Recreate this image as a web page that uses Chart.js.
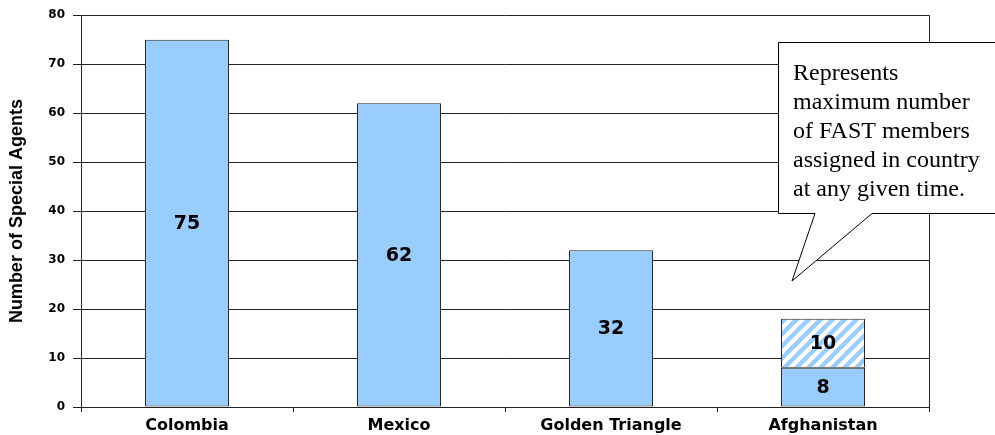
<!DOCTYPE html>
<html>
<head>
<meta charset="utf-8">
<script src="https://cdn.jsdelivr.net/npm/chart.js@4.4.1/dist/chart.umd.min.js"></script>
<style>
  html, body { margin: 0; padding: 0; background: #fff; }
  #wrap { width: 995px; height: 435px; }
</style>
</head>
<body>
<div id="wrap"><canvas id="myChart" width="995" height="435"></canvas></div>
<script>
const countries = ['Colombia', 'Mexico', 'Golden Triangle', 'Afghanistan'];
const assignedAgents = [75, 62, 32, 8];
const maxExtraAgents = [0, 0, 0, 10];
const yTicks = [0, 10, 20, 30, 40, 50, 60, 70, 80];
const calloutLines = ['Represents', 'maximum number', 'of FAST members', 'assigned in country', 'at any given time.'];

const BLUE = '#99CCFF';

// diagonal white stripes on the blue fill
function makeHatch() {
   const c = document.createElement('canvas');
   c.width = 12; c.height = 12;
   const g = c.getContext('2d');
   g.fillStyle = '#fff';
   g.fillRect(0, 0, 12, 12);
   g.strokeStyle = BLUE;
   g.lineWidth = 4.4;
   g.beginPath();
   g.moveTo(-3, 15); g.lineTo(15, -3);
   g.moveTo(-9, 9); g.lineTo(9, -9);
   g.moveTo(3, 21); g.lineTo(21, 3);
   g.stroke();
   return g.createPattern(c, 'repeat');
}

const barLabels = {
   id: 'barLabels',
   afterDatasetsDraw(chart) {
      const ctx = chart.ctx;
      ctx.save();
      ctx.font = 'bold 19px "DejaVu Sans"';
      ctx.fillStyle = '#000';
      ctx.textAlign = 'center';
      ctx.textBaseline = 'middle';
      chart.data.datasets.forEach((ds, di) => {
         const meta = chart.getDatasetMeta(di);
         meta.data.forEach((bar, i) => {
            const v = ds.data[i];
            if (!v) return;
            ctx.fillText(String(v), bar.x, (bar.y + bar.base) / 2 + 1);
         });
      });
      ctx.restore();
   }
};

const frameAndCallout = {
   id: 'frameAndCallout',
   afterDraw(chart) {
      const ctx = chart.ctx;
      const a = chart.chartArea;
      ctx.save();
      ctx.strokeStyle = '#222';
      ctx.lineWidth = 1;
      ctx.beginPath();
      ctx.moveTo(Math.round(a.right) + 0.5, a.top);
      ctx.lineTo(Math.round(a.right) + 0.5, a.bottom);
      ctx.stroke();

      // speech bubble
      ctx.beginPath();
      ctx.moveTo(778.5, 42.5);
      ctx.lineTo(1000, 42.5);
      ctx.lineTo(1000, 213.5);
      ctx.lineTo(872, 213.5);
      ctx.lineTo(792, 281);
      ctx.lineTo(815, 213.5);
      ctx.lineTo(778.5, 213.5);
      ctx.closePath();
      ctx.fillStyle = '#fff';
      ctx.fill();
      ctx.strokeStyle = '#000';
      ctx.stroke();

      ctx.fillStyle = '#000';
      ctx.font = '24px "Liberation Serif"';
      ctx.textAlign = 'left';
      ctx.textBaseline = 'alphabetic';
      calloutLines.forEach((t, i) => ctx.fillText(t, 793, 80 + i * 29));
      ctx.restore();
   }
};

const ctx = document.getElementById('myChart');
new Chart(ctx, {
   type: 'bar',
   data: {
      labels: countries,
      datasets: [{
         data: assignedAgents,
         backgroundColor: BLUE,
         borderColor: '#222',
         borderWidth: 1,
         borderSkipped: false
      }, {
         data: maxExtraAgents,
         backgroundColor: makeHatch(),
         borderColor: '#222',
         borderWidth: 1,
         borderSkipped: false
      }]
   },
   options: {
      responsive: false,
      animation: false,
      events: [],
      layout: { padding: { left: 0, right: 66, top: 15, bottom: 0 } },
      plugins: { legend: { display: false }, tooltip: { enabled: false } },
      datasets: { bar: { categoryPercentage: 1, barPercentage: 0.396 } },
      scales: {
         x: {
            stacked: true,
            offset: true,
            grid: { display: true, drawOnChartArea: false, offset: true, tickLength: 5, color: '#222' },
            border: { color: '#222' },
            ticks: { color: '#000', font: { family: 'DejaVu Sans', weight: 'bold', size: 16 }, padding: 4, maxRotation: 0 },
            afterFit(s) { s.height = 28; }
         },
         y: {
            stacked: true,
            min: 0,
            max: 80,
            afterBuildTicks(s) { s.ticks = yTicks.map(v => ({ value: v })); },
            grid: { color: '#222', tickLength: 8 },
            border: { color: '#222' },
            ticks: { color: '#000', font: { family: 'DejaVu Sans', weight: 'bold', size: 12 }, padding: 8 },
            title: {
               display: true,
               text: 'Number of Special Agents',
               color: '#000',
               font: { family: 'Liberation Sans', weight: 'bold', size: 18 },
               padding: { top: 6, bottom: 0 }
            },
            afterFit(s) { s.width = 81; }
         }
      }
   },
   plugins: [barLabels, frameAndCallout]
});
</script>
</body>
</html>
